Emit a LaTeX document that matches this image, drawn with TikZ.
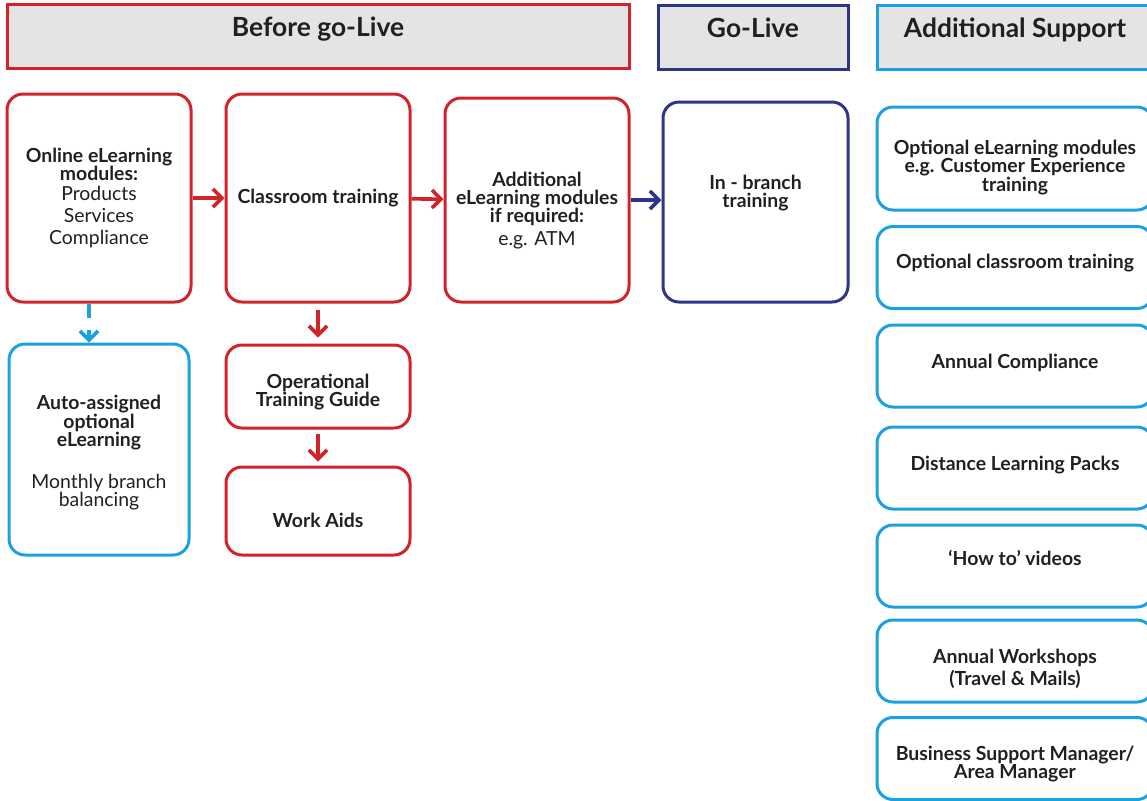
\documentclass[tikz,border=0pt]{standalone}
\usepackage{fontspec}
\setmainfont{Lato}
\usetikzlibrary{arrows.meta}

\definecolor{brandred}{HTML}{D2232A}
\definecolor{brandnavy}{HTML}{2E3586}
\definecolor{brandblue}{HTML}{1BA1E2}
\definecolor{headfill}{HTML}{E4E4E4}
\definecolor{inktext}{HTML}{231F20}

\begin{document}
\begin{tikzpicture}[x=0.5pt,y=-0.5pt,
    every node/.style={text=inktext},
    header/.style={draw,line width=1.5pt,fill=headfill,inner sep=0pt,
        text height=16pt,text depth=16pt,font=\fontsize{13.2}{15}\selectfont\bfseries},
    stepbox/.style={draw,line width=1.5pt,rounded corners=8pt,inner sep=2pt,
        align=center,font=\fontsize{9.7}{9.1}\selectfont\bfseries},
    redbox/.style={stepbox,draw=brandred,minimum width=92pt},
    navybox/.style={stepbox,draw=brandnavy},
    bluebox/.style={stepbox,draw=brandblue},
    supbox/.style={bluebox,minimum width=138pt,minimum height=41pt},
    flow/.style={line width=1.8pt,-{Straight Barb[length=4.5pt,width=9pt]}}
]
\useasboundingbox (0,0) rectangle (1147,800);
\clip (0,0) rectangle (1147,800);

% Kopfzeilen
\node[header,draw=brandred,minimum width=311pt] (hbefore) at (318,36) {Before go-Live};
\node[header,draw=brandnavy,minimum width=95pt] (hlive) at (753,37.5) {Go-Live};
\node[header,draw=brandblue,minimum width=138pt] (hsupport) at (1015,37.5) {Additional Support};

% Vor dem Go-Live
\node[redbox,minimum height=104pt] (online) at (99,198)
    {Online eLearning\\modules:\\[1pt]
     \mdseries Products\\[2pt] \mdseries Services\\[2pt] \mdseries Compliance};
\node[redbox,minimum height=104pt] (classroom) at (318,198) {Classroom training};
\node[redbox,minimum height=102pt] (addmod) at (537,200)
    {\mbox{}\\[8.4pt]Additional\\eLearning modules\\if required:\\[2pt] \mdseries e.g. ATM};
\node[redbox,minimum height=41.5pt] (guide) at (318,386.5) {\mbox{}\\[4pt]Operational\\Training Guide};
\node[redbox,minimum height=44pt] (aids) at (318,511) {\mbox{}\\[7pt]Work Aids};
\node[bluebox,minimum width=90pt,minimum height=105.5pt] (auto) at (99,449.5)
    {\mbox{}\\[1.5pt]Auto-assigned\\optional\\eLearning\\[12pt] \mdseries Monthly branch\\ \mdseries balancing};

% Go-Live
\node[navybox,minimum width=92.5pt,minimum height=100pt] (inbranch) at (755.5,202)
    {In - branch\\training\\[2pt]\mbox{}};

% Zusaetzliche Unterstuetzung
\node[supbox,minimum height=51.5pt] (optel) at (1015,158.5)
    {\mbox{}\\[7pt]Optional eLearning modules\\e.g. Customer Experience\\training};
\node[supbox] (optclass) at (1015,267.5) {Optional classroom training\\[-3pt]\mbox{}};
\node[supbox] (annual) at (1015,366) {Annual Compliance\\[-4pt]\mbox{}};
\node[supbox] (distance) at (1015,468) {Distance Learning Packs\\[-4pt]\mbox{}};
\node[supbox] (howto) at (1015,566) {`How to' videos\\[-1.5pt]\mbox{}};
\node[supbox] (workshops) at (1015,661) {\mbox{}\\[6pt]Annual Workshops\\[1pt](Travel \& Mails)};
\node[supbox] (bsm) at (1015,758.5) {\mbox{}\\[4pt]Business Support Manager/\\Area Manager};

% Pfeile
\draw[flow,draw=brandred] (online) -- (classroom);
\draw[flow,draw=brandred] (classroom) -- (addmod);
\draw[flow,draw=brandnavy] (addmod.east) -- (addmod.east -| inbranch.west);
\draw[flow,draw=brandred,shorten <=3pt,shorten >=3pt] (classroom) -- (guide);
\draw[flow,draw=brandred,shorten <=2pt,shorten >=2pt] (guide) -- (aids);
\draw[flow,draw=brandblue,dash pattern=on 7pt off 6pt]
    ([xshift=-5pt]online.south) -- ([xshift=-5pt]auto.north);

\end{tikzpicture}
\end{document}
